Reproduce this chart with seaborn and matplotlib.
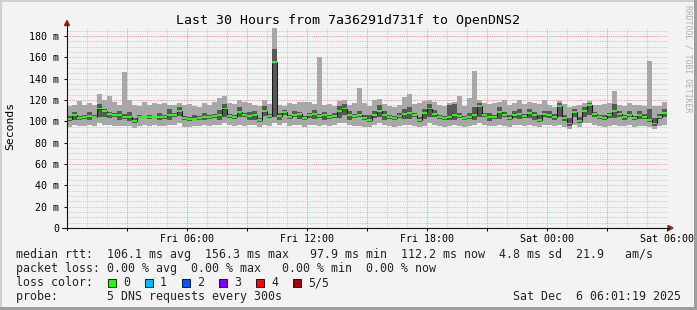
import numpy as np
import pandas as pd
import matplotlib
matplotlib.use("Agg")
import matplotlib.pyplot as plt
import seaborn as sns
from matplotlib.patches import Rectangle, Polygon
from matplotlib.lines import Line2D

# ---------------- data (ms, one value per 15-minute step, Fri 00:00 -> Sat 06:00) ----------------
median_ms = [102, 106, 103, 104, 105, 104, 112, 110, 107, 106, 106, 104, 104, 100, 104, 104, 104, 104, 104, 104, 106, 106, 110, 103,
             102, 102, 103, 104, 104, 105, 106, 112, 105, 104, 109, 106, 105, 106, 101, 110, 105, 156, 105, 109, 104, 106, 107, 103,
             106, 107, 105, 106, 104, 105, 110, 112, 106, 105, 106, 103, 101, 106, 110, 106, 104, 103, 105, 107, 108, 106, 101, 108,
             112, 107, 104, 103, 104, 106, 105, 103, 104, 106, 114, 106, 104, 104, 109, 106, 103, 106, 107, 105, 108, 106, 101, 107,
             106, 104, 114, 103, 98, 109, 100, 110, 115, 107, 104, 103, 106, 110, 107, 104, 106, 103, 106, 104, 101, 98, 104, 108]
max_ms = [114, 115, 119, 115, 117, 115, 126, 120, 124, 118, 115, 146, 120, 115, 114, 118, 115, 117, 116, 117, 115, 115, 117, 115,
          116, 114, 113, 117, 115, 118, 122, 124, 117, 116, 120, 118, 117, 115, 114, 120, 116, 190, 115, 114, 117, 116, 118, 118,
          118, 116, 160, 115, 116, 114, 119, 120, 115, 117, 131, 117, 114, 120, 121, 116, 114, 113, 115, 123, 126, 116, 117, 119,
          120, 118, 115, 114, 117, 118, 124, 114, 122, 147, 120, 117, 116, 117, 118, 120, 115, 117, 120, 116, 118, 117, 116, 120,
          115, 113, 119, 116, 113, 114, 115, 117, 119, 115, 115, 116, 117, 128, 115, 114, 117, 115, 115, 114, 157, 114, 114, 118]
min_ms = [95, 97, 96, 96, 97, 96, 98, 97, 97, 96, 96, 96, 96, 94, 96, 97, 96, 97, 96, 96, 97, 97, 98, 95,
          95, 96, 96, 97, 96, 97, 97, 98, 97, 96, 97, 96, 97, 97, 95, 97, 96, 98, 97, 98, 96, 97, 97, 95,
          97, 97, 96, 97, 96, 97, 98, 98, 97, 96, 96, 95, 95, 97, 98, 97, 96, 95, 96, 97, 97, 96, 95, 96,
          98, 97, 96, 95, 96, 97, 96, 95, 96, 97, 98, 97, 96, 96, 97, 96, 95, 97, 97, 96, 97, 96, 95, 97,
          97, 96, 97, 95, 93, 97, 95, 98, 98, 97, 96, 95, 96, 97, 96, 96, 97, 95, 96, 96, 95, 93, 96, 97]
inner_lo_ms = [100, 101, 101, 102, 101, 103, 104, 104, 103, 104, 101, 102, 100, 98, 103, 103, 102, 103, 101, 102, 101, 104, 105, 101,
               100, 101, 101, 101, 102, 103, 101, 104, 103, 102, 104, 104, 101, 101, 99, 105, 103, 104, 101, 106, 102, 104, 102, 101,
               103, 102, 103, 101, 102, 103, 103, 106, 101, 103, 104, 101, 99, 103, 104, 101, 102, 101, 103, 102, 102, 104, 99, 102,
               104, 104, 102, 101, 101, 101, 103, 101, 102, 101, 104, 104, 100, 102, 102, 104, 101, 103, 102, 103, 103, 101, 99, 104,
               103, 101, 104, 100, 96, 104, 98, 104, 106, 104, 102, 101, 103, 103, 104, 101, 104, 101, 102, 102, 99, 96, 102, 104]
inner_hi_ms = [105, 109, 105, 106, 109, 106, 116, 112, 109, 108, 110, 107, 109, 103, 106, 105, 106, 105, 108, 106, 112, 108, 113, 105,
               104, 106, 105, 108, 106, 107, 111, 116, 107, 106, 113, 108, 109, 110, 103, 114, 107, 168, 108, 111, 106, 110, 109, 105,
               108, 111, 107, 109, 106, 108, 114, 116, 110, 107, 110, 106, 106, 110, 115, 110, 106, 105, 108, 112, 113, 108, 104, 112,
               116, 111, 106, 105, 115, 116, 108, 105, 108, 113, 117, 108, 108, 106, 113, 109, 106, 110, 112, 107, 112, 109, 106, 110,
               110, 107, 117, 106, 103, 112, 104, 113, 117, 109, 106, 106, 108, 116, 110, 106, 110, 105, 110, 107, 112, 103, 107, 112]
step_hours = 0.25

y_ticks = [0, 20, 40, 60, 80, 100, 120, 140, 160, 180]
y_tick_labels = ["0", "20 m", "40 m", "60 m", "80 m", "100 m", "120 m", "140 m", "160 m", "180 m"]
x_ticks = [6, 12, 18, 24, 30]
x_tick_labels = ["Fri 06:00", "Fri 12:00", "Fri 18:00", "Sat 00:00", "Sat 06:00"]

title = "Last 30 Hours from 7a36291d731f to OpenDNS2"
legend_rtt = "median rtt:  106.1 ms avg  156.3 ms max   97.9 ms min  112.2 ms now  4.8 ms sd  21.9   am/s"
legend_loss = "packet loss: 0.00 % avg  0.00 % max   0.00 % min  0.00 % now"
legend_color_label = "loss color:"
loss_labels = ["0", "1", "2", "3", "4", "5/5"]
loss_colors = ["#26ff00", "#00b8ff", "#0059ff", "#7e00ff", "#ff0000", "#a10000"]
legend_probe = "probe:       5 DNS requests every 300s"
stamp = "Sat Dec  6 06:01:19 2025"
watermark = "RRDTOOL / TOBI OETIKER"

# ---------------- style ----------------
sns.set_style("white")
plt.rcParams["font.family"] = ["DejaVu Sans Mono", "DejaVu Sans"]

W, H = 697, 310
BG = "#f3f3f3"
fig = plt.figure(figsize=(W / 100, H / 100), dpi=100, facecolor=BG)


def fx(px):
    return px / W


def fy(py):
    return 1 - py / H


L, R, T, B = 67, 667, 28, 228
PX_PER_MS = 192 / 180.0
ax = fig.add_axes([fx(L), fy(B), (R - L) / W, (B - T) / H])
ax.set_facecolor(BG)
ax.set_xlim(0, 30)
ax.set_ylim(0, (B - T) / PX_PER_MS)
for s in ax.spines.values():
    s.set_visible(False)

# grid
minor_y = [v for v in range(5, 190, 5) if v % 60]
major_y = [60, 120, 180]
minor_x = [h for h in range(1, 30) if h % 3]
major_x = [h for h in range(3, 30, 3)]
dot = (0, (1, 1.2))
ax.hlines(minor_y, 0, 30, colors="#c6c6c6", linewidth=0.72, linestyles=[dot], zorder=0)
ax.vlines(minor_x, 0, 190, colors="#c6c6c6", linewidth=0.72, linestyles=[dot], zorder=0)
ax.hlines(major_y, 0, 30, colors="#e79898", linewidth=0.72, linestyles=[dot], zorder=0.5)
ax.vlines(major_x, 0, 190, colors="#e79898", linewidth=0.72, linestyles=[dot], zorder=0.5)

# smoke
n = len(median_ms)
edges = np.arange(n + 1) * step_hours


def ext(a):
    a = list(a)
    return np.array(a + [a[-1]], dtype=float)


ax.fill_between(edges, ext(min_ms), ext(max_ms), step="post", color="#a8a8a8", linewidth=0, zorder=2)
ax.fill_between(edges, ext(inner_lo_ms), ext(inner_hi_ms), step="post", color="#585858", linewidth=0, zorder=3)

# median line (dark) through seaborn
df = pd.DataFrame({"t": edges, "median": ext(median_ms)})
sns.lineplot(data=df, x="t", y="median", drawstyle="steps-post", color="#1a1a1a",
             linewidth=0.75, ax=ax, legend=False, estimator=None, zorder=4)
ax.set_xlabel("")
ax.set_ylabel("")

# loss-coloured median boxes
medv = ext(median_ms)
ax.fill_between(edges, medv - 0.9, medv + 0.9, step="post", color=loss_colors[0], linewidth=0, zorder=5)

# ticks
ax.set_yticks(y_ticks)
ax.set_yticklabels(y_tick_labels)
ax.set_xticks(x_ticks)
ax.set_xticklabels(x_tick_labels)
ax.set_xticks(major_x, minor=True)
ax.tick_params(axis="y", direction="out", length=2.5, width=0.75, color="#101010", pad=3.2,
               labelsize=7.2, labelcolor="#000000", left=True)
ax.tick_params(axis="x", which="major", direction="out", length=2.5, width=0.75, color="#101010",
               pad=2.0, labelsize=7.2, labelcolor="#000000", bottom=True)
ax.tick_params(axis="x", which="minor", direction="out", length=2.0, width=0.75, color="#101010", bottom=True)

# axes lines + arrows
AX_C = "#101010"
fig.add_artist(Line2D([fx(67), fx(67)], [fy(230), fy(24)], color=AX_C, lw=0.8))
fig.add_artist(Line2D([fx(62), fx(669)], [fy(228), fy(228)], color=AX_C, lw=0.8))
ARROW_C = "#9a1c1c"
fig.add_artist(Polygon([[fx(64.5), fy(25.5)], [fx(69.5), fy(25.5)], [fx(67), fy(20.5)]],
                       closed=True, color=ARROW_C, transform=fig.transFigure))
fig.add_artist(Polygon([[fx(668), fy(225.5)], [fx(668), fy(230.5)], [fx(673), fy(228)]],
                       closed=True, color=ARROW_C, transform=fig.transFigure))

# texts
fig.text(fx(347.5), fy(24), title, ha="center", va="baseline", fontsize=9.5, color="#000000")
fig.text(fx(10), fy(126), "Seconds", rotation=90, ha="center", va="center", fontsize=8.2, color="#000000")
fig.text(fx(688), fy(5), watermark, rotation=270, ha="center", va="top", fontsize=5.9, color="#b0b0b0")

LFS = 8.35
fig.text(fx(16), fy(258.3), legend_rtt, ha="left", va="baseline", fontsize=LFS)
fig.text(fx(16), fy(272.3), legend_loss, ha="left", va="baseline", fontsize=LFS)
fig.text(fx(16), fy(286.3), legend_color_label, ha="left", va="baseline", fontsize=LFS)
for i, (lab, col) in enumerate(zip(loss_labels, loss_colors)):
    x0 = 108 + 37 * i
    fig.add_artist(Rectangle((fx(x0), fy(286.5)), 8 / W, 7.5 / H, facecolor=col, edgecolor="#000000",
                             linewidth=0.6, transform=fig.transFigure))
    fig.text(fx(x0 + 15), fy(286.3), lab, ha="left", va="baseline", fontsize=LFS)
fig.text(fx(16), fy(300), legend_probe, ha="left", va="baseline", fontsize=LFS)
fig.text(fx(681), fy(300), stamp, ha="right", va="baseline", fontsize=LFS)

# frame (shade)
fig.add_artist(Rectangle((0, fy(2)), 1, 2 / H, facecolor="#cfcfcf", edgecolor="none", transform=fig.transFigure))
fig.add_artist(Rectangle((0, 0), 2 / W, 1, facecolor="#cfcfcf", edgecolor="none", transform=fig.transFigure))
fig.add_artist(Rectangle((0, 0), 1, 3 / H, facecolor="#9e9e9e", edgecolor="none", transform=fig.transFigure))
fig.add_artist(Rectangle((fx(694), 0), 3 / W, 1, facecolor="#9e9e9e", edgecolor="none", transform=fig.transFigure))

fig.savefig("out.png", dpi=100, facecolor=BG)
